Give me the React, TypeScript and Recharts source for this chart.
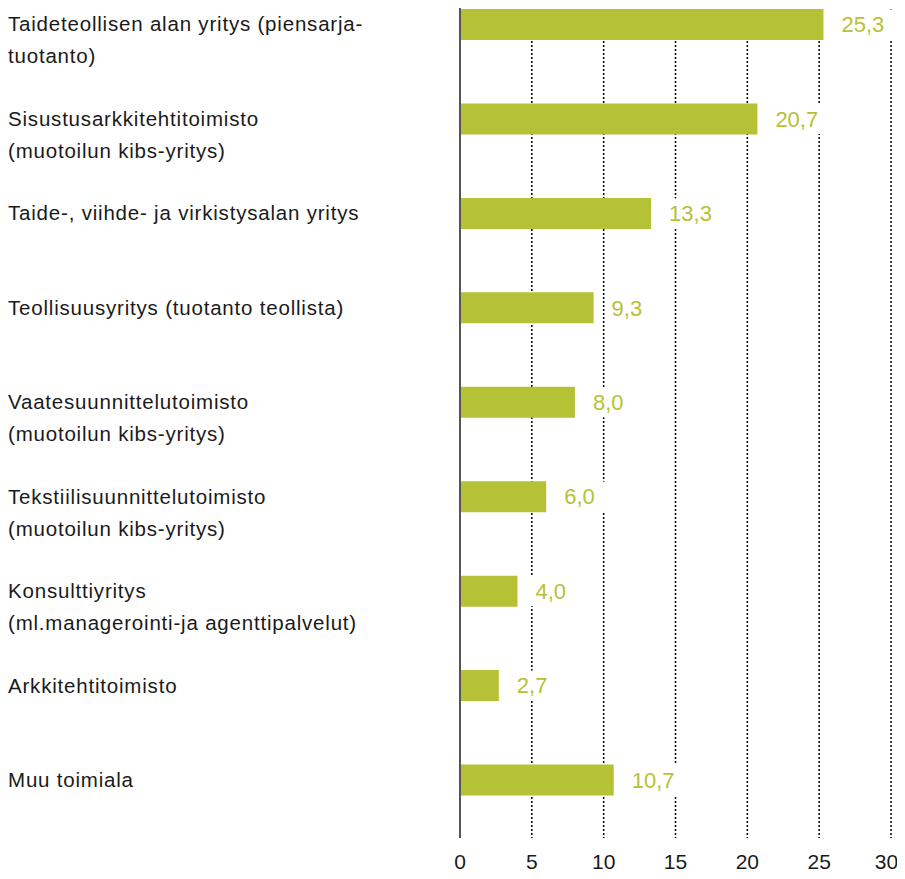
import React from "react"
import { BarChart, Bar, XAxis, YAxis, CartesianGrid, LabelList } from "recharts"

const categories = [
  "Taideteollisen alan yritys (piensarja-\ntuotanto)",
  "Sisustusarkkitehtitoimisto\n(muotoilun kibs-yritys)",
  "Taide-, viihde- ja virkistysalan yritys",
  "Teollisuusyritys (tuotanto teollista)",
  "Vaatesuunnittelutoimisto\n(muotoilun kibs-yritys)",
  "Tekstiilisuunnittelutoimisto\n(muotoilun kibs-yritys)",
  "Konsulttiyritys\n(ml.managerointi-ja agenttipalvelut)",
  "Arkkitehtitoimisto",
  "Muu toimiala",
]

const shares = [25.3, 20.7, 13.3, 9.3, 8.0, 6.0, 4.0, 2.7, 10.7]

const xTicks = [0, 5, 10, 15, 20, 25, 30]

const data = categories.map((name, i) => ({ name, value: shares[i] }))

const GREEN = "#b5c236"
const FONT = "'Liberation Sans', Arial, Helvetica, sans-serif"

function CategoryTick(props: any) {
  const { y, payload } = props
  const lines = String(payload.value).split("\n")
  return (
    <text x={0} y={y} fill="#1a1a1a" fontSize={20.5} fontFamily={FONT} letterSpacing={0.8}>
      {lines.map((line, i) => (
        <tspan key={i} x={0} dy={i === 0 ? "0.35em" : 32}>
          {line}
        </tspan>
      ))}
    </text>
  )
}

function ValueLabel(props: any) {
  const { x, y, width, height, value } = props
  const text = Number(value).toFixed(1).replace(".", ",")
  const lx = x + width + 18
  const cy = y + height / 2
  return (
    <g>
      <rect x={lx - 6} y={cy - 15} width={text.length * 12 + 12} height={30} fill="#fff" />
      <text x={lx} y={cy} dy="0.35em" fill={GREEN} fontSize={22} fontFamily={FONT}>
        {text}
      </text>
    </g>
  )
}

export default function App() {
  return (
    <div style={{ width: 889, height: 871, marginBottom: -8 }}>
      <style>{"svg.recharts-surface { overflow: visible; }"}</style>
      <BarChart
        width={889}
        height={871}
        data={data}
        layout="vertical"
        margin={{ top: -31, right: 6, bottom: 11, left: 0 }}
      >
        <CartesianGrid horizontal={false} stroke="#000" strokeDasharray="2 2" strokeWidth={1.5} />
        <XAxis
          type="number"
          domain={[0, 30]}
          ticks={xTicks}
          axisLine={false}
          tickLine={false}
          tickMargin={10}
          height={30}
          tick={{ fill: "#1a1a1a", fontSize: 21, fontFamily: FONT }}
        />
        <YAxis
          type="category"
          dataKey="name"
          width={452}
          padding={{ top: 0, bottom: 11 }}
          axisLine={{ stroke: "#555", strokeWidth: 2 }}
          tickLine={false}
          tick={<CategoryTick />}
          interval={0}
        />
        <Bar dataKey="value" fill={GREEN} barSize={31} isAnimationActive={false}>
          <LabelList dataKey="value" content={<ValueLabel />} />
        </Bar>
      </BarChart>
    </div>
  )
}
